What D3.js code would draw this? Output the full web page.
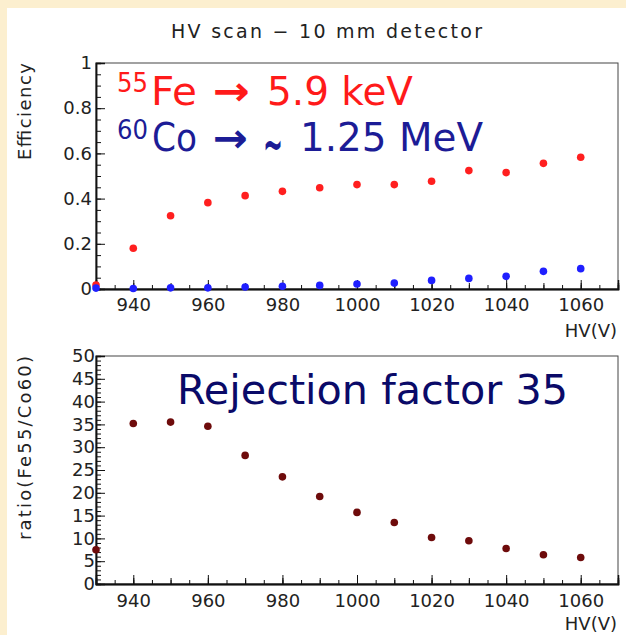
<!DOCTYPE html>
<html>
<head>
<meta charset="utf-8">
<script src="https://cdn.jsdelivr.net/npm/d3@7"></script>
<style>
  html, body { margin: 0; padding: 0; background: #fff; }
  svg { display: block; }
</style>
</head>
<body>
<svg id="chart" width="626" height="635"></svg>
<script>
// ---- data ----
const hv = [930, 940, 950, 960, 970, 980, 990, 1000, 1010, 1020, 1030, 1040, 1050, 1060];
const feEff = [0.018, 0.180, 0.324, 0.382, 0.413, 0.432, 0.448, 0.462, 0.462, 0.477, 0.524, 0.515, 0.556, 0.583];
const coEff = [0.004, 0.002, 0.005, 0.005, 0.009, 0.012, 0.016, 0.022, 0.026, 0.038, 0.047, 0.056, 0.078, 0.090];
const ratio = [7.5, 35.2, 35.5, 34.6, 28.2, 23.5, 19.2, 15.7, 13.5, 10.2, 9.5, 7.8, 6.4, 5.8];
const xMajorTicks = [940, 960, 980, 1000, 1020, 1040, 1060];
const effTicks = [0, 0.2, 0.4, 0.6, 0.8, 1];
const ratioTicks = [0, 5, 10, 15, 20, 25, 30, 35, 40, 45, 50];
const title = "HV scan \u2212 10 mm detector";

const svg = d3.select("#chart");
const FONT = "'DejaVu Sans', sans-serif";
const LEFT = 96, RIGHT = 618;

// background decorations
svg.append("rect").attr("x", 0).attr("y", 0).attr("width", 626).attr("height", 635).attr("fill", "#fff");
svg.append("rect").attr("x", 0).attr("y", 0).attr("width", 626).attr("height", 8).attr("fill", "#fcefcf");
svg.append("rect").attr("x", 0).attr("y", 0).attr("width", 7).attr("height", 635).attr("fill", "#fcefcf");

// title
svg.append("text").attr("x", 171).attr("y", 38)
  .attr("font-family", FONT).attr("font-size", 19).attr("fill", "#222")
  .attr("textLength", 311).attr("lengthAdjust", "spacing")
  .text(title);

const x = d3.scaleLinear().domain([930, 1070]).range([LEFT, RIGHT]);

function panel(opts) {
  const y = d3.scaleLinear().domain(opts.yDomain).range([opts.bottom, opts.top]);
  const g = svg.append("g");
  // frame
  g.append("rect").attr("x", LEFT).attr("y", opts.top)
    .attr("width", RIGHT - LEFT).attr("height", opts.bottom - opts.top)
    .attr("fill", "none").attr("stroke", "#444").attr("stroke-width", 1);

  // x axis: minor / medium / major ticks, inward
  const xa = g.append("g").attr("transform", `translate(0,${opts.bottom})`);
  xa.append("g").call(d3.axisBottom(x).tickValues(d3.range(930, 1071, 5)).tickSize(-4).tickFormat(""));
  xa.append("g").call(d3.axisBottom(x).tickValues(d3.range(930, 1071, 10)).tickSize(-6).tickFormat(""));
  xa.append("g").call(d3.axisBottom(x).tickValues(xMajorTicks).tickSize(-9).tickPadding(opts.xPad).tickFormat(d3.format("d")));
  xa.selectAll(".domain").attr("stroke", "#111").attr("stroke-width", 1.5);
  xa.selectAll("line").attr("stroke", "#111");
  xa.selectAll("text").attr("font-family", FONT).attr("font-size", 18).attr("fill", "#222");

  // y axis
  const ya = g.append("g").attr("transform", `translate(${LEFT},0)`);
  ya.append("g").call(d3.axisLeft(y).tickValues(opts.yMinor).tickSize(-5).tickFormat(""));
  ya.append("g").call(d3.axisLeft(y).tickValues(opts.yMajor).tickSize(-9).tickPadding(opts.yPad).tickFormat(opts.yFmt));
  ya.selectAll(".domain").attr("stroke", "#111").attr("stroke-width", 1.5);
  ya.selectAll("line").attr("stroke", "#111");
  ya.selectAll("text").attr("font-family", FONT).attr("font-size", 18).attr("fill", "#222");

  // x title
  g.append("text").attr("x", 617).attr("y", opts.bottom + opts.hvDy)
    .attr("text-anchor", "end").attr("font-family", FONT).attr("font-size", 18).attr("fill", "#222")
    .text("HV(V)");
  // y title
  g.append("text").attr("transform", `translate(31,${opts.top}) rotate(-90)`)
    .attr("text-anchor", "end").attr("font-family", FONT).attr("font-size", 18).attr("fill", "#222")
    .attr("textLength", opts.yTitleLen).attr("lengthAdjust", "spacing")
    .text(opts.yTitle);

  // series
  opts.series.forEach(s => {
    g.append("g").selectAll("circle").data(hv).join("circle")
      .attr("cx", d => x(d))
      .attr("cy", (d, i) => y(s.values[i]))
      .attr("r", 3.8)
      .attr("fill", s.color);
  });
  return { g, y };
}

const effPanel = panel({
  top: 63, bottom: 289, yDomain: [0, 1],
  yMajor: effTicks, yMinor: d3.range(0, 1.001, 0.05).map(v => +v.toFixed(2)),
  yFmt: d => (d === 0 ? "0" : d === 1 ? "1" : d3.format(".1f")(d)),
  xPad: 9, yPad: 4, hvDy: 48,
  yTitle: "Efficiency", yTitleLen: 97,
  series: [
    { values: feEff, color: "#ff1f1f" },
    { values: coEff, color: "#1f1fff" }
  ]
});

const ratioPanel = panel({
  top: 356, bottom: 584, yDomain: [0, 50],
  yMajor: ratioTicks, yMinor: d3.range(0, 51, 1),
  yFmt: d3.format("d"),
  xPad: 10, yPad: 1, hvDy: 46,
  yTitle: "ratio(Fe55/Co60)", yTitleLen: 184,
  series: [
    { values: ratio, color: "#6e0b0b" }
  ]
});

// annotations: each piece placed at its position in the reference
const ANN = "'DejaVu Sans', sans-serif";
function piece(txt, x0, x1, baseline, size, color, weight) {
  svg.append("text").attr("x", x0).attr("y", baseline)
    .attr("font-family", ANN).attr("font-size", size).attr("fill", color)
    .attr("font-weight", weight || "normal")
    .attr("textLength", x1 - x0).attr("lengthAdjust", "spacingAndGlyphs")
    .text(txt);
}
const RED = "#ff1a1a", BLUE = "#1c1c96", NAVY = "#0a0a68";
piece("55", 117, 148, 92, 26, RED);
piece("Fe", 151, 197, 105, 39, RED);
piece("\u2192", 213, 250, 105, 40, RED, "bold");
piece("5.9 keV", 267, 413, 105, 39, RED);

piece("60", 117, 148, 139, 26, BLUE);
piece("Co", 152, 197, 151, 39, BLUE);
piece("\u2192", 213, 248, 152, 40, BLUE, "bold");
piece("~", 263, 283, 161, 50, BLUE, "bold");
piece("1.25 MeV", 300, 483, 151, 39, BLUE);

piece("Rejection factor 35", 177, 568, 404, 40, NAVY);
</script>
</body>
</html>
